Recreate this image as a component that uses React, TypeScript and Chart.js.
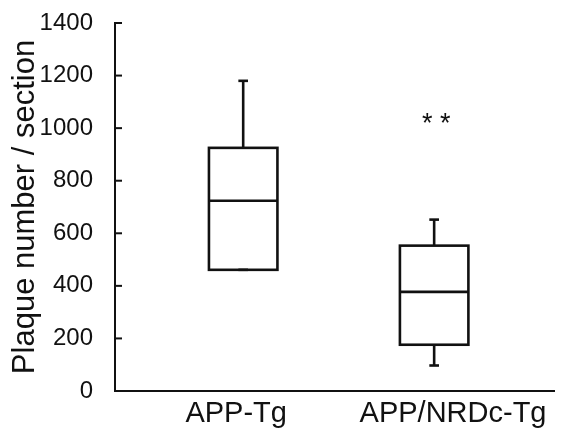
import React, { useEffect, useRef } from 'react';
import { Chart, registerables } from 'chart.js';

Chart.register(...registerables);

// ---- Data ----
const groups = ['APP-Tg', 'APP/NRDc-Tg'];
const whiskerHigh = [1180, 652];
const q3Values = [925, 553];
const medianValues = [724, 377];
const q1Values = [461, 176];
const whiskerLow = [461, 97];
const significance = ['', '* *'];
const significanceLevel = 1030;
const yTickValues = [0, 200, 400, 600, 800, 1000, 1200, 1400];
const yTitle = 'Plaque number / section';

// ---- Layout (x scale units 0..10) ----
const boxCenters = [2.92, 7.27];
const labelCenters = [2.76, 7.7];
const boxWidth = 1.56;
const capWidth = 0.22;

const INK = '#111111';
const FONT = '"Liberation Sans", Arial, Helvetica, sans-serif';

const boxPlugin = {
  id: 'boxPlot',
  afterDatasetsDraw(chart: any) {
    const { ctx, scales } = chart;
    const x = scales.x;
    const y = scales.y;
    ctx.save();
    ctx.strokeStyle = INK;
    ctx.lineWidth = 2.6;
    ctx.lineCap = 'butt';
    const line = (x1: number, y1: number, x2: number, y2: number) => {
      ctx.beginPath();
      ctx.moveTo(x1, y1);
      ctx.lineTo(x2, y2);
      ctx.stroke();
    };
    groups.forEach((_, i) => {
      const cx = x.getPixelForValue(boxCenters[i]);
      const left = x.getPixelForValue(boxCenters[i] - boxWidth / 2);
      const right = x.getPixelForValue(boxCenters[i] + boxWidth / 2);
      const capL = x.getPixelForValue(boxCenters[i] - capWidth / 2);
      const capR = x.getPixelForValue(boxCenters[i] + capWidth / 2);
      const yHi = y.getPixelForValue(whiskerHigh[i]);
      const yQ3 = y.getPixelForValue(q3Values[i]);
      const yMed = y.getPixelForValue(medianValues[i]);
      const yQ1 = y.getPixelForValue(q1Values[i]);
      const yLo = y.getPixelForValue(whiskerLow[i]);
      line(cx, yHi, cx, yQ3);
      line(capL, yHi, capR, yHi);
      line(cx, yQ1, cx, yLo);
      line(capL, yLo, capR, yLo);
      ctx.strokeRect(left, yQ3, right - left, yQ1 - yQ3);
      line(left, yMed, right, yMed);
      if (significance[i]) {
        ctx.fillStyle = INK;
        ctx.font = `27px ${FONT}`;
        ctx.textAlign = 'center';
        ctx.textBaseline = 'middle';
        ctx.fillText(significance[i], cx + 2, y.getPixelForValue(significanceLevel) + 4);
      }
    });
    // inward y ticks
    ctx.lineWidth = 2;
    const ax = chart.chartArea.left;
    yTickValues.forEach((v) => {
      const py = y.getPixelForValue(v);
      line(ax, py, ax + 7, py);
    });
    ctx.restore();
  },
};

export default function App() {
  const ref = useRef<HTMLCanvasElement>(null);
  useEffect(() => {
    if (!ref.current) return;
    const chart = new Chart(ref.current, {
      type: 'scatter',
      data: {
        datasets: [
          {
            data: groups.map((_, i) => ({ x: boxCenters[i], y: medianValues[i] })),
            pointRadius: 0,
            pointHoverRadius: 0,
          },
        ],
      },
      options: {
        responsive: false,
        animation: false,
        events: [],
        layout: { padding: { top: 23, right: 10, left: 0, bottom: 0 } },
        plugins: { legend: { display: false }, tooltip: { enabled: false } },
        scales: {
          x: {
            type: 'linear',
            min: 0,
            max: 10,
            afterBuildTicks: (scale: any) => {
              scale.ticks = labelCenters.map((v) => ({ value: v }));
            },
            afterFit: (scale: any) => {
              scale.height = 46;
              scale.paddingLeft = 0;
              scale.paddingRight = 0;
            },
            ticks: {
              autoSkip: false,
              maxRotation: 0,
              padding: 6,
              color: INK,
              font: { family: FONT, size: 29 },
              callback: (_v: any, idx: number) => groups[idx],
            },
            grid: { display: false, drawTicks: false },
            border: { display: true, color: INK, width: 2 },
          },
          y: {
            min: 0,
            max: 1400,
            afterBuildTicks: (scale: any) => {
              scale.ticks = yTickValues.map((v) => ({ value: v }));
            },
            afterFit: (scale: any) => {
              scale.width = 115;
              scale.paddingTop = 0;
              scale.paddingBottom = 0;
            },
            ticks: {
              padding: 22,
              color: INK,
              font: { family: FONT, size: 24 },
              callback: (v: any) => String(v),
            },
            grid: { display: false, drawTicks: false },
            border: { display: true, color: INK, width: 2 },
            title: {
              display: true,
              text: yTitle,
              color: INK,
              font: { family: FONT, size: 31 },
              padding: { top: 7, bottom: 0 },
            },
          },
        },
      },
      plugins: [boxPlugin],
    });
    return () => chart.destroy();
  }, []);
  return (
    <div style={{ position: 'absolute', left: 0, top: 0, width: 564, height: 437, background: '#fff' }}>
      <canvas ref={ref} width={564} height={437} style={{ display: 'block' }} />
    </div>
  );
}
